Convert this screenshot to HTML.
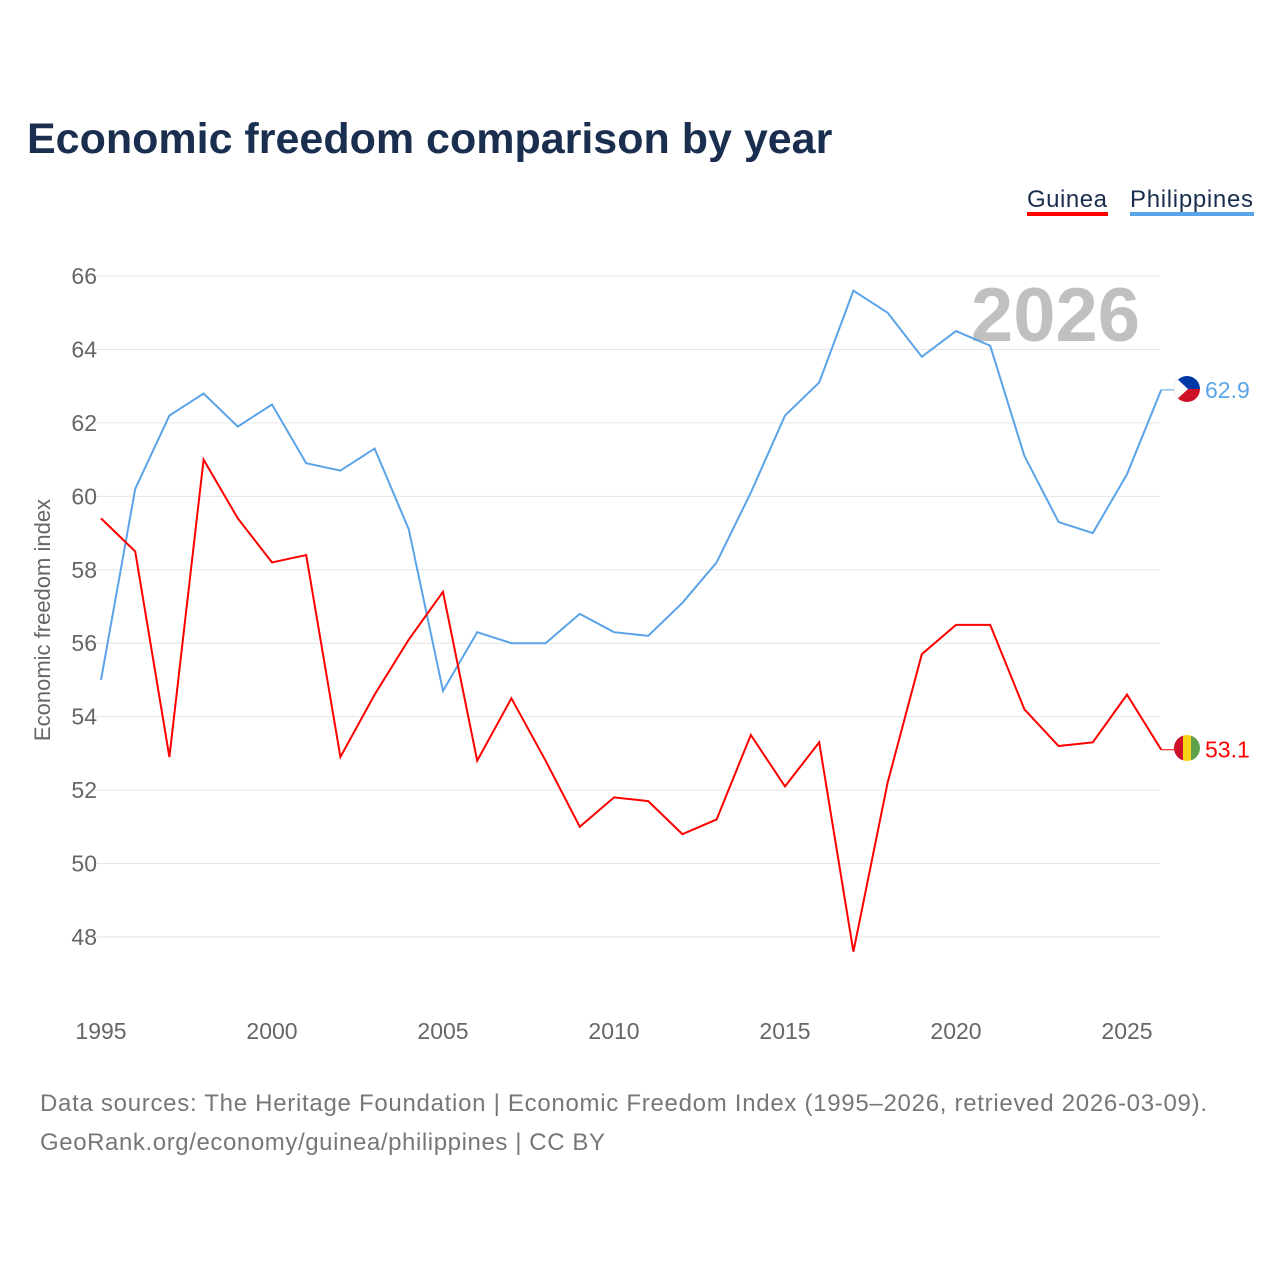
<!DOCTYPE html>
<html><head><meta charset="utf-8"><style>
body{margin:0;background:#fff;font-family:"Liberation Sans",sans-serif;}
#wrap{position:relative;width:1280px;height:1280px;}
</style></head><body>
<div id="wrap">
<svg id="chart" width="1280" height="1280" xmlns="http://www.w3.org/2000/svg">
<defs>
<clipPath id="cp1"><circle cx="1187" cy="389" r="13"/></clipPath>
<clipPath id="cp2"><circle cx="1187" cy="748" r="13"/></clipPath>
</defs>
<text x="27" y="153" font-size="43" font-weight="bold" fill="#1a2e4f">Economic freedom comparison by year</text>
<g><text x="1027" y="207" font-size="24" fill="#1a2e4f" textLength="80">Guinea</text><rect x="1027" y="212" width="81" height="4" fill="#ff0000"/></g>
<g><text x="1130" y="207" font-size="24" fill="#1a2e4f" textLength="123">Philippines</text><rect x="1130" y="212" width="124" height="4" fill="#5ba3e8"/></g>
<text x="1140" y="341" font-size="76" font-weight="bold" fill="#c0c0c0" text-anchor="end">2026</text>
<text transform="translate(50,620) rotate(-90)" font-size="22" fill="#666" text-anchor="middle">Economic freedom index</text>
<g id="grid"></g><g id="xt"></g><g id="lines"></g>
<g id="flags">
<g clip-path="url(#cp1)"><rect x="1174" y="376" width="26" height="13" fill="#0038a8"/><rect x="1174" y="389" width="26" height="13" fill="#ce1126"/><polygon points="1174,376 1188,389 1174,402" fill="#fff"/></g>
<g clip-path="url(#cp2)"><rect x="1174" y="735" width="9" height="26" fill="#ce1126"/><rect x="1183" y="735" width="8" height="26" fill="#fcd116"/><rect x="1191" y="735" width="9" height="26" fill="#5fa24a"/></g>
</g>
<text x="40" y="1111" font-size="24" fill="#777" textLength="1167">Data sources: The Heritage Foundation | Economic Freedom Index (1995–2026, retrieved 2026-03-09).</text>
<text x="40" y="1150" font-size="24" fill="#777" textLength="565">GeoRank.org/economy/guinea/philippines | CC BY</text>
</svg></div>
<script>
const years=[1995,1996,1997,1998,1999,2000,2001,2002,2003,2004,2005,2006,2007,2008,2009,2010,2011,2012,2013,2014,2015,2016,2017,2018,2019,2020,2021,2022,2023,2024,2025,2026];
const philippines=[55.0,60.2,62.2,62.8,61.9,62.5,60.9,60.7,61.3,59.1,54.7,56.3,56.0,56.0,56.8,56.3,56.2,57.1,58.2,60.1,62.2,63.1,65.6,65.0,63.8,64.5,64.1,61.1,59.3,59.0,60.6,62.9];
const guinea=[59.4,58.5,52.9,61.0,59.4,58.2,58.4,52.9,54.6,56.1,57.4,52.8,54.5,52.8,51.0,51.8,51.7,50.8,51.2,53.5,52.1,53.3,47.6,52.2,55.7,56.5,56.5,54.2,53.2,53.3,54.6,53.1];
const yTicks=[48,50,52,54,56,58,60,62,64,66];
const xTicks=[1995,2000,2005,2010,2015,2020,2025];
const NS="http://www.w3.org/2000/svg";
const X=y=>101+(y-1995)*34.2;
const Y=v=>276+(66-v)*36.72;
function mk(tag,attrs,parent){const e=document.createElementNS(NS,tag);for(const k in attrs)e.setAttribute(k,attrs[k]);parent.appendChild(e);return e;}
const grid=document.getElementById('grid');
yTicks.forEach(t=>{
 const l=mk('line',{x1:95,x2:1160,y1:Y(t),y2:Y(t),stroke:'#e6e6e6','stroke-width':1},grid);
 
 
 const tx=mk('text',{x:97,y:Y(t)+8,'font-size':23,fill:'#666','text-anchor':'end'},grid);tx.textContent=t;
 
 
});
const xt=document.getElementById('xt');
xTicks.forEach(t=>{
 const tx=mk('text',{x:X(t),y:1039,'font-size':23,fill:'#666','text-anchor':'middle'},xt);tx.textContent=t;
 
 
});
const lines=document.getElementById('lines');
function series(vals,color,name){
 const p=mk('polyline',{points:vals.map((v,i)=>X(years[i])+','+Y(v)).join(' '),fill:'none',stroke:color,'stroke-width':2},lines);
 
 
 const last=vals[vals.length-1];
 const c=mk('line',{x1:X(years[years.length-1]),x2:1180,y1:Y(last),y2:Y(last),stroke:color,'stroke-width':1},lines);
 
 
 const t=mk('text',{x:1205,y:Y(last)+8,'font-size':23,fill:color},lines);t.textContent=last.toFixed(1);
 
 
}
series(philippines,'#5ba3e8','philippines');
series(guinea,'#ff0000','guinea');
</script>
</body></html>
